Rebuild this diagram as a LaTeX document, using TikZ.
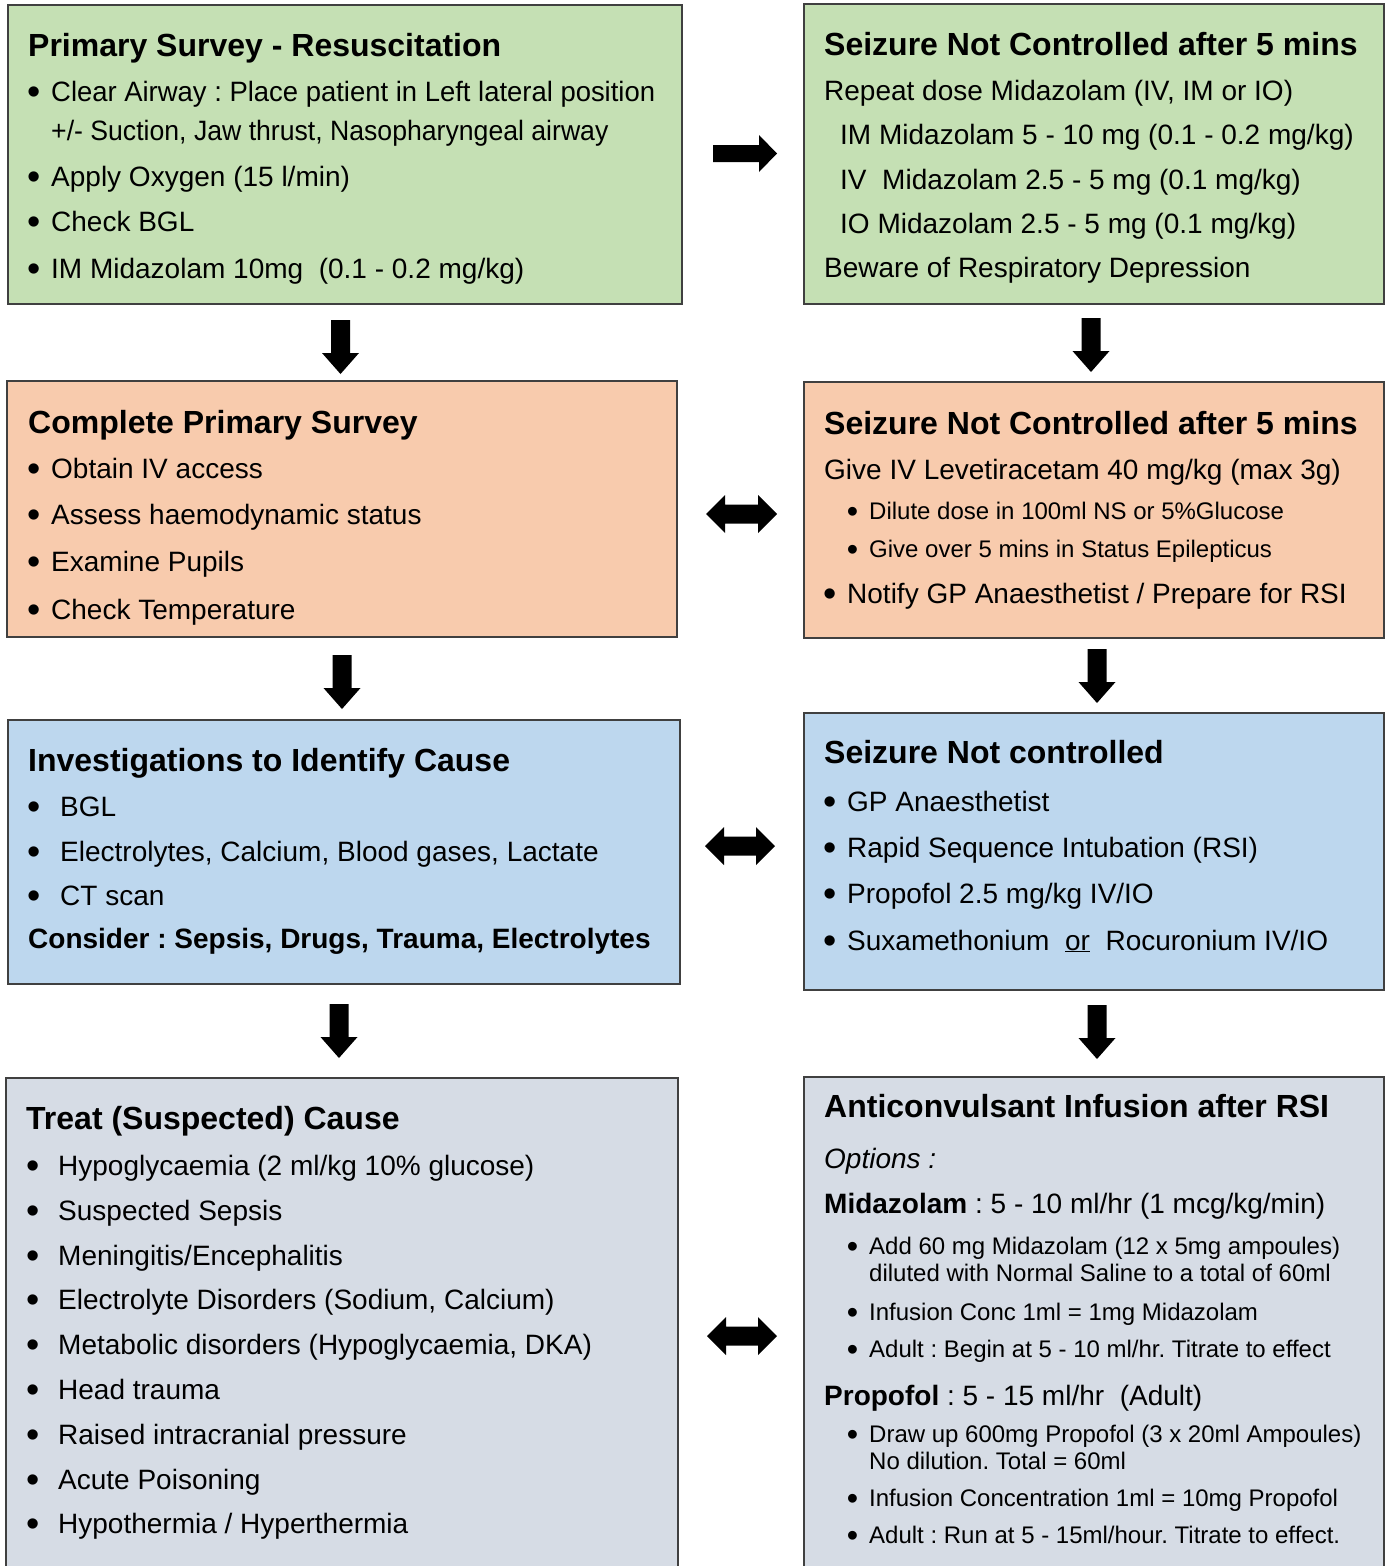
\documentclass[tikz,border=0pt]{standalone}
\usepackage{fontspec}
\usepackage{graphicx}
\setmainfont{Liberation Sans}
\definecolor{cgreen}{HTML}{C5E0B4}
\definecolor{corange}{HTML}{F8CBAD}
\definecolor{cblue}{HTML}{BDD7EE}
\definecolor{cgray}{HTML}{D6DCE5}
\definecolor{bordercol}{HTML}{404040}
\newcommand\bu[1][18pt]{\makebox[#1][l]{\hspace{-0.06em}\raisebox{-0.11em}{\scalebox{1.35}{•}}}}
\newcommand\dnarrow[3]{% cx, ytop, ytip
  \fill[blk] (#1-9.5,#2) -- (#1+9.5,#2) -- (#1+9.5,#3-21) -- (#1+18.5,#3-21) -- (#1,#3) -- (#1-18.5,#3-21) -- (#1-9.5,#3-21) -- cycle;}
\newcommand\lrarrow[3]{% cy, xleft, xright
  \fill[blk] (#2,#1) -- (#2+19,#1-19) -- (#2+19,#1-9.5) -- (#3-19,#1-9.5) -- (#3-19,#1-19) -- (#3,#1) -- (#3-19,#1+19) -- (#3-19,#1+9.5) -- (#2+19,#1+9.5) -- (#2+19,#1+19) -- cycle;}
\tikzset{
  box/.style={draw=bordercol, line width=1.3pt, anchor=north west, inner sep=0pt, outer sep=0pt},
  ttl/.style={anchor=base west, inner sep=0pt, font=\fontsize{32}{36}\selectfont\bfseries},
  txt/.style={anchor=base west, inner sep=0pt, font=\fontsize{28}{32}\selectfont},
  sml/.style={anchor=base west, inner sep=0pt, font=\fontsize{24}{28}\selectfont},
  blk/.style={fill=black},
}
\begin{document}
\frenchspacing
\begin{tikzpicture}[x=1pt,y=-1pt]
\useasboundingbox (0,0) rectangle (1389,1566);
% boxes
\node[box, fill=cgreen, minimum width=674pt, minimum height=299pt] (b1) at (8,5) {};
\node[box, fill=cgreen, minimum width=580pt, minimum height=300pt] (b2) at (804,4) {};
\node[box, fill=corange, minimum width=670pt, minimum height=256pt] (b3) at (7,381) {};
\node[box, fill=corange, minimum width=580pt, minimum height=256pt] (b4) at (804,382) {};
\node[box, fill=cblue, minimum width=672pt, minimum height=264pt] (b5) at (8,720) {};
\node[box, fill=cblue, minimum width=580pt, minimum height=277pt] (b6) at (804,713) {};
\node[box, fill=cgray, minimum width=672pt, minimum height=495pt] (b7) at (6,1078) {};
\node[box, fill=cgray, minimum width=580pt, minimum height=495pt] (b8) at (804,1077) {};

% box 1
\node[ttl] (t1) at (28,56.5) {Primary Survey - Resuscitation};
\node[txt] (t1a) at (29,101.5) {\bu[22pt]\scalebox{0.98}[1]{Clear Airway : Place patient in Left lateral position}};
\node[txt] (t1b) at (51,140.5) {\scalebox{0.951}[1]{+/- Suction, Jaw thrust, Nasopharyngeal airway}};
\node[txt] (t1c) at (29,186.5) {\bu[22pt]Apply Oxygen (15 l/min)};
\node[txt] (t1d) at (29,231.5) {\bu[22pt]Check BGL};
\node[txt] (t1e) at (29,278.5) {\bu[22pt]IM Midazolam 10mg~ (0.1 - 0.2 mg/kg)};

% box 2
\node[ttl] (t2) at (824,55.5) {Seizure Not Controlled after 5 mins};
\node[txt] (t2a) at (824,100) {Repeat dose Midazolam (IV, IM or IO)};
\node[txt] (t2b) at (840,144) {IM Midazolam 5 - 10 mg (0.1 - 0.2 mg/kg)};
\node[txt] (t2c) at (840,189) {IV~ Midazolam 2.5 - 5 mg (0.1 mg/kg)};
\node[txt] (t2d) at (840,233) {IO Midazolam 2.5 - 5 mg (0.1 mg/kg)};
\node[txt] (t2e) at (824,277) {Beware of Respiratory Depression};

% box 3
\node[ttl] (t3) at (28,433.5) {Complete Primary Survey};
\node[txt] (t3a) at (29,478) {\bu[22pt]Obtain IV access};
\node[txt] (t3b) at (29,524) {\bu[22pt]Assess haemodynamic status};
\node[txt] (t3c) at (29,571) {\bu[22pt]Examine Pupils};
\node[txt] (t3d) at (29,619) {\bu[22pt]Check Temperature};

% box 4
\node[ttl] (t4) at (824,434.5) {Seizure Not Controlled after 5 mins};
\node[txt] (t4a) at (824,479) {Give IV Levetiracetam 40 mg/kg (max 3g)};
\node[sml] (t4b) at (848,519.5) {\bu[21pt]Dilute dose in 100ml NS or 5\%Glucose};
\node[sml] (t4c) at (848,557.5) {\bu[21pt]Give over 5 mins in Status Epilepticus};
\node[txt] (t4d) at (825,603) {\bu[22pt]Notify GP Anaesthetist / Prepare for RSI};

% box 5
\node[ttl] (t5) at (28,771.5) {Investigations to Identify Cause};
\node[txt] (t5a) at (29,816) {\bu[31pt]BGL};
\node[txt] (t5b) at (29,861) {\bu[31pt]Electrolytes, Calcium, Blood gases, Lactate};
\node[txt] (t5c) at (29,905) {\bu[31pt]CT scan};
\node[txt, font=\fontsize{28}{32}\selectfont\bfseries] (t5d) at (28,948) {Consider : Sepsis, Drugs, Trauma, Electrolytes};

% box 6
\node[ttl] (t6) at (824,763.5) {Seizure Not controlled};
\node[txt] (t6a) at (825,811) {\bu[22pt]GP Anaesthetist};
\node[txt] (t6b) at (825,857) {\bu[22pt]Rapid Sequence Intubation (RSI)};
\node[txt] (t6c) at (825,903) {\bu[22pt]Propofol 2.5 mg/kg IV/IO};
\node[txt] (t6d) at (825,950) {\bu[22pt]Suxamethonium~ \underline{or}~ Rocuronium IV/IO};

% box 7
\node[ttl] (t7) at (26,1129.5) {Treat (Suspected) Cause};
\node[txt] (t7a) at (28,1175) {\bu[30pt]Hypoglycaemia (2 ml/kg 10\% glucose)};
\node[txt] (t7b) at (28,1220) {\bu[30pt]Suspected Sepsis};
\node[txt] (t7c) at (28,1265) {\bu[30pt]Meningitis/Encephalitis};
\node[txt] (t7d) at (28,1309) {\bu[30pt]Electrolyte Disorders (Sodium, Calcium)};
\node[txt] (t7e) at (28,1354) {\bu[30pt]Metabolic disorders (Hypoglycaemia, DKA)};
\node[txt] (t7f) at (28,1399) {\bu[30pt]Head trauma};
\node[txt] (t7g) at (28,1444) {\bu[30pt]Raised intracranial pressure};
\node[txt] (t7h) at (28,1489) {\bu[30pt]Acute Poisoning};
\node[txt] (t7i) at (28,1533) {\bu[30pt]Hypothermia / Hyperthermia};

% box 8
\node[ttl] (t8) at (824,1117.5) {Anticonvulsant Infusion after RSI};
\node[txt, font=\fontsize{28}{32}\selectfont\itshape] (t8a) at (824,1168) {Options :};
\node[txt] (t8b) at (824,1213) {\textbf{Midazolam} : 5 - 10 ml/hr (1 mcg/kg/min)};
\node[sml] (t8c) at (848,1254.5) {\bu[21pt]Add 60 mg Midazolam (12 x 5mg ampoules)};
\node[sml] (t8d) at (869,1281.5) {diluted with Normal Saline to a total of 60ml};
\node[sml] (t8e) at (848,1320.5) {\bu[21pt]Infusion Conc 1ml = 1mg Midazolam};
\node[sml] (t8f) at (848,1357.5) {\bu[21pt]Adult : Begin at 5 - 10 ml/hr. Titrate to effect};
\node[txt] (t8g) at (824,1405) {\textbf{Propofol} : 5 - 15 ml/hr~ (Adult)};
\node[sml] (t8h) at (848,1442.5) {\bu[21pt]Draw up 600mg Propofol (3 x 20ml Ampoules)};
\node[sml] (t8i) at (869,1469.5) {No dilution. Total = 60ml};
\node[sml] (t8j) at (848,1506.5) {\bu[21pt]Infusion Concentration 1ml = 10mg Propofol};
\node[sml] (t8k) at (848,1543.5) {\bu[21pt]Adult : Run at 5 - 15ml/hour. Titrate to effect.};

% arrows
\fill[blk] (713,145) -- (759,145) -- (759,135) -- (777,153.5) -- (759,172) -- (759,162) -- (713,162) -- cycle;
\dnarrow{340.5}{320}{374}
\dnarrow{1091}{318}{372}
\dnarrow{342}{655}{709}
\dnarrow{1097}{649}{703}
\dnarrow{339}{1004}{1058}
\dnarrow{1097}{1005}{1059}
\lrarrow{514}{706}{777}
\lrarrow{846}{705}{775}
\lrarrow{1336}{707}{777}
\end{tikzpicture}
\end{document}
